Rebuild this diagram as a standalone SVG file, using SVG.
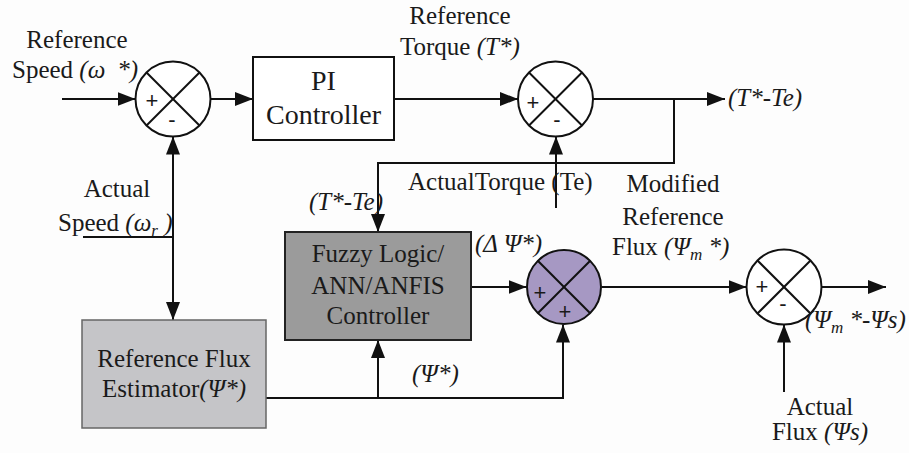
<svg xmlns="http://www.w3.org/2000/svg" width="909" height="453" viewBox="0 0 909 453">
<defs>
<marker id="arr" markerUnits="userSpaceOnUse" markerWidth="18" markerHeight="14" refX="18" refY="7" orient="auto">
<path d="M0,0 L18,7 L0,14 z" fill="#111"/>
</marker>
<style>
text{font-family:'Liberation Serif','Times New Roman','DejaVu Serif',serif;font-size:25px;fill:#1a1a1a}
.i{font-style:italic}
.sub{font-size:17px}
.sg{font-family:'Liberation Sans',Arial,sans-serif;font-size:22px;text-anchor:middle}
.c{text-anchor:middle}
.ln{stroke:#111;stroke-width:2;fill:none}
.a{marker-end:url(#arr)}
.sum{fill:#fff;stroke:#111;stroke-width:2}
.x{stroke:#111;stroke-width:2}
</style>
</defs>
<rect width="909" height="453" fill="#fdfdfd"/>

<g id="connectors">
<line class="ln a" x1="62" y1="99" x2="135.5" y2="99"/>
<line class="ln a" x1="210.5" y1="99" x2="253" y2="99"/>
<line class="ln a" x1="394" y1="99" x2="518" y2="99"/>
<line class="ln a" x1="593" y1="99" x2="725" y2="99"/>
<polyline class="ln a" points="674,99 674,163 378,163 378,232"/>
<line class="ln a" x1="556" y1="208" x2="556" y2="136.5"/>
<line class="ln" x1="83" y1="237" x2="173" y2="237"/>
<line class="ln a" x1="173" y1="237" x2="173" y2="136.5"/>
<line class="ln a" x1="173" y1="237" x2="173" y2="320"/>
<polyline class="ln a" points="266,398 563,398 563,324.5"/>
<line class="ln a" x1="378" y1="398" x2="378" y2="340"/>
<line class="ln a" x1="471" y1="287" x2="526.5" y2="287"/>
<line class="ln a" x1="601.5" y1="287" x2="746.5" y2="287"/>
<line class="ln a" x1="821.5" y1="287" x2="886" y2="287"/>
<line class="ln a" x1="784" y1="392" x2="784" y2="324.5"/>
</g>

<g id="sum1">
<circle class="sum" cx="173" cy="99" r="37.5"/>
<line class="x" x1="146.5" y1="72.5" x2="199.5" y2="125.5"/>
<line class="x" x1="146.5" y1="125.5" x2="199.5" y2="72.5"/>
<text class="sg" x="152" y="108">+</text>
<text class="sg" x="172" y="127">-</text>
</g>

<g id="pi">
<rect x="253" y="57" width="141" height="83" fill="#fff" stroke="#111" stroke-width="2"/>
<text class="c" x="323.5" y="90" style="font-size:28px">PI</text>
<text class="c" x="323.5" y="124" style="font-size:28px">Controller</text>
</g>

<g id="sum2">
<circle class="sum" cx="555.5" cy="99" r="37.5"/>
<line class="x" x1="529" y1="72.5" x2="582" y2="125.5"/>
<line class="x" x1="529" y1="125.5" x2="582" y2="72.5"/>
<text class="sg" x="533" y="110">+</text>
<text class="sg" x="557" y="127">-</text>
</g>

<g id="fuzzy">
<rect x="285" y="232" width="186" height="108" fill="#9b9b9b" stroke="#222" stroke-width="2"/>
<text class="c" x="378" y="262">Fuzzy Logic/</text>
<text class="c" x="378" y="294">ANN/ANFIS</text>
<text class="c" x="378" y="324">Controller</text>
</g>

<g id="refflux">
<rect x="82" y="320" width="184" height="108" fill="#c5c5c8" stroke="#666" stroke-width="1.5"/>
<text class="c" x="174" y="367">Reference Flux</text>
<text class="c" x="174" y="397">Estimator<tspan class="i">(Ψ*)</tspan></text>
</g>

<g id="sum3">
<circle cx="564" cy="287" r="37" fill="#a698c3" stroke="#111" stroke-width="2"/>
<line class="x" x1="537.8" y1="260.8" x2="590.2" y2="313.2"/>
<line class="x" x1="537.8" y1="313.2" x2="590.2" y2="260.8"/>
<text class="sg" x="540" y="300">+</text>
<text class="sg" x="565" y="319">+</text>
</g>

<g id="sum4">
<circle class="sum" cx="784" cy="287" r="37.5"/>
<line class="x" x1="757.5" y1="260.5" x2="810.5" y2="313.5"/>
<line class="x" x1="757.5" y1="313.5" x2="810.5" y2="260.5"/>
<text class="sg" x="762" y="294">+</text>
<text class="sg" x="783" y="311">-</text>
</g>

<g id="labels">
<text class="c" x="77" y="48">Reference</text>
<text x="12" y="78">Speed <tspan class="i">(ω<tspan dx="12">*)</tspan></tspan></text>
<text class="c" x="117" y="197">Actual</text>
<text x="58" y="231">Speed <tspan class="i">(ω<tspan class="sub" dy="5">r</tspan><tspan dy="-5"> )</tspan></tspan></text>
<text class="c" x="460" y="24">Reference</text>
<text x="400" y="55">Torque <tspan class="i">(T*)</tspan></text>
<text class="i" x="728" y="106">(T*-Te)</text>
<text class="i" x="383" y="210" text-anchor="end">(T*-Te)</text>
<text x="408" y="190">ActualTorque (Te)</text>
<text class="c" x="673" y="192">Modified</text>
<text class="c" x="673" y="225">Reference</text>
<text x="612" y="255">Flux <tspan class="i">(Ψ<tspan class="sub" dy="5">m</tspan><tspan dy="-5"> *)</tspan></tspan></text>
<text class="i" x="475" y="252">(Δ Ψ*)</text>
<text class="i" x="412" y="382">(Ψ*)</text>
<text class="i" x="805" y="328">(Ψ<tspan class="sub" dy="5">m</tspan><tspan dy="-5"> *-Ψs)</tspan></text>
<text class="c" x="820" y="415">Actual</text>
<text class="c" x="820" y="440">Flux <tspan class="i">(Ψs)</tspan></text>
</g>
</svg>
